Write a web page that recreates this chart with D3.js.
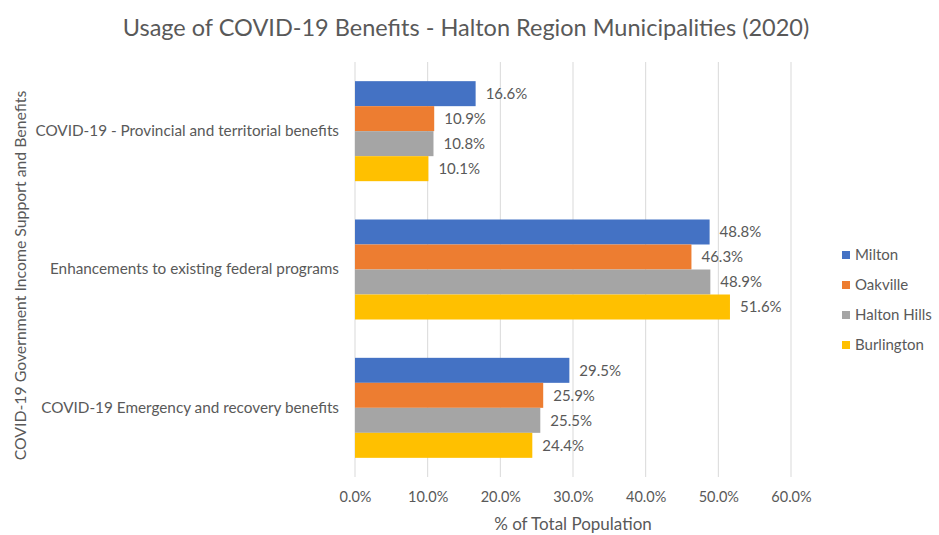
<!DOCTYPE html>
<html>
<head>
<meta charset="utf-8">
<script src="https://cdn.jsdelivr.net/npm/d3@7"></script>
<style>
  body { margin: 0; background: #fff; }
  text { font-family: Lato, "Open Sans", sans-serif; fill: #595959; }
</style>
</head>
<body>
<div id="chart"></div>
<script>
"use strict";
// data
const categories = [
    "COVID-19 - Provincial and territorial benefits",
    "Enhancements to existing federal programs",
    "COVID-19 Emergency and recovery benefits"
];
const seriesNames = ["Milton", "Oakville", "Halton Hills", "Burlington"];
const milton = [16.6, 48.8, 29.5];
const oakville = [10.9, 46.3, 25.9];
const haltonHills = [10.8, 48.9, 25.5];
const burlington = [10.1, 51.6, 24.4];
const xTicks = [0, 10, 20, 30, 40, 50, 60];

const seriesValues = [milton, oakville, haltonHills, burlington];
const colors = ["#4472C4", "#ED7D31", "#A5A5A5", "#FFC000"];

const width = 939, height = 535;
const margin = { top: 62, right: 148, bottom: 58, left: 355 };
const innerW = width - margin.left - margin.right;
const innerH = height - margin.top - margin.bottom;

const svg = d3.select("#chart")
    .append("svg")
    .attr("width", width)
    .attr("height", height);

const g = svg.append("g")
    .attr("transform", `translate(${margin.left},${margin.top})`);

const xScale = d3.scaleLinear().domain([0, 60]).range([0, innerW]);
const yScale = d3.scaleBand().domain(categories).range([0, innerH]).paddingInner(0.277).paddingOuter(0.1385);
const subScale = d3.scaleBand().domain(seriesNames).range([0, yScale.bandwidth()]);

// gridlines
g.append("g")
    .selectAll("line")
    .data(xTicks)
    .enter()
    .append("line")
    .attr("x1", d => xScale(d))
    .attr("x2", d => xScale(d))
    .attr("y1", 0)
    .attr("y2", innerH)
    .attr("stroke", "#D9D9D9")
    .attr("stroke-width", 1);

// x axis labels
const xAxis = g.append("g")
    .attr("transform", `translate(0,${innerH})`)
    .call(d3.axisBottom(xScale).tickValues(xTicks).tickSize(0).tickPadding(15)
        .tickFormat(d => d.toFixed(1) + "%"));
xAxis.select(".domain").remove();
xAxis.selectAll("text").style("font-size", "14.5px").attr("fill", "#595959");

// y axis labels
const yAxis = g.append("g")
    .call(d3.axisLeft(yScale).tickSize(0).tickPadding(16));
yAxis.select(".domain").remove();
yAxis.selectAll("text").style("font-size", "15.3px").attr("fill", "#595959");

// bars
const groups = g.selectAll(".cat")
    .data(categories)
    .enter()
    .append("g")
    .attr("class", "cat")
    .attr("transform", d => `translate(0,${yScale(d)})`);

groups.selectAll("rect")
    .data((d, i) => seriesNames.map((s, j) => ({ name: s, value: seriesValues[j][i], color: colors[j] })))
    .enter()
    .append("rect")
    .attr("x", xScale(0))
    .attr("y", d => subScale(d.name))
    .attr("width", d => xScale(d.value) - xScale(0))
    .attr("height", subScale.bandwidth())
    .attr("fill", d => d.color);

groups.selectAll(".value")
    .data((d, i) => seriesNames.map((s, j) => ({ name: s, value: seriesValues[j][i] })))
    .enter()
    .append("text")
    .attr("class", "value")
    .attr("x", d => xScale(d.value) + 10)
    .attr("y", d => subScale(d.name) + subScale.bandwidth() / 2)
    .attr("dy", "0.35em")
    .style("font-size", "15px")
    .text(d => d.value.toFixed(1) + "%");

// title
svg.append("text")
    .attr("x", 466)
    .attr("y", 36)
    .attr("text-anchor", "middle")
    .style("font-size", "23.5px")
    .text("Usage of COVID-19 Benefits - Halton Region Municipalities (2020)");

// axis titles
svg.append("text")
    .attr("x", margin.left + innerW / 2)
    .attr("y", 530)
    .attr("text-anchor", "middle")
    .style("font-size", "17px")
    .text("% of Total Population");

svg.append("text")
    .attr("transform", `translate(26,${margin.top + innerH / 2 + 6}) rotate(-90)`)
    .attr("text-anchor", "middle")
    .style("font-size", "15.8px")
    .text("COVID-19 Government Income Support and Benefits");

// legend
const legend = svg.append("g")
    .attr("transform", "translate(842,255)");
const items = legend.selectAll("g")
    .data(seriesNames)
    .enter()
    .append("g")
    .attr("transform", (d, i) => `translate(0,${i * 30})`);
items.append("rect")
    .attr("x", 0)
    .attr("y", -4)
    .attr("width", 8)
    .attr("height", 8)
    .attr("fill", (d, i) => colors[i]);
items.append("text")
    .attr("x", 13)
    .attr("dy", "0.35em")
    .style("font-size", "15px")
    .text(d => d);
</script>
</body>
</html>
